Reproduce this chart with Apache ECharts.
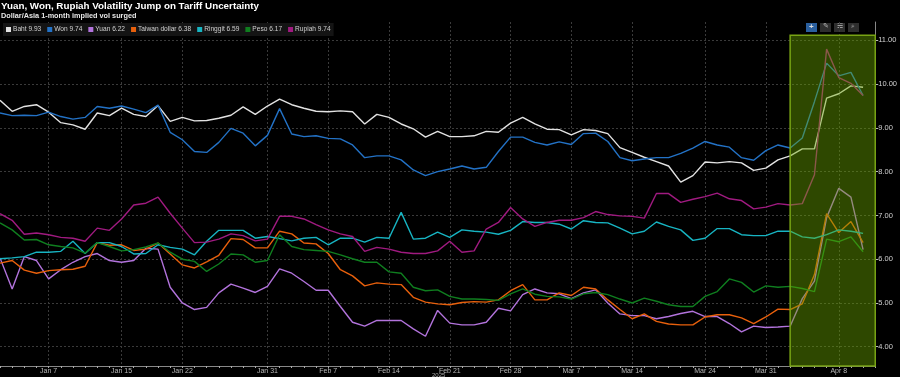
<!DOCTYPE html>
<html>
<head>
<meta charset="utf-8">
<script src="https://cdn.jsdelivr.net/npm/echarts@6/dist/echarts.min.js"></script>
<style>
html, body { margin: 0; padding: 0; background: #000; }
#chart { width: 900px; height: 377px; }
</style>
</head>
<body>
<div id="chart"></div>
<script>
// business days, Jan 1 - Apr 11 2025
const dates = [
  'Jan 1','Jan 2','Jan 3','Jan 6','Jan 7','Jan 8','Jan 9','Jan 10','Jan 13','Jan 14','Jan 15','Jan 16','Jan 17',
  'Jan 20','Jan 21','Jan 22','Jan 23','Jan 24','Jan 27','Jan 28','Jan 29','Jan 30','Jan 31',
  'Feb 3','Feb 4','Feb 5','Feb 6','Feb 7','Feb 10','Feb 11','Feb 12','Feb 13','Feb 14',
  'Feb 17','Feb 18','Feb 19','Feb 20','Feb 21','Feb 24','Feb 25','Feb 26','Feb 27','Feb 28',
  'Mar 3','Mar 4','Mar 5','Mar 6','Mar 7','Mar 10','Mar 11','Mar 12','Mar 13','Mar 14',
  'Mar 17','Mar 18','Mar 19','Mar 20','Mar 21','Mar 24','Mar 25','Mar 26','Mar 27','Mar 28','Mar 31',
  'Apr 1','Apr 2','Apr 3','Apr 4','Apr 7','Apr 8','Apr 9','Apr 10','Apr 11'
];
const tickLabels = ['Jan 7','Jan 15','Jan 22','Jan 31','Feb 7','Feb 14','Feb 21','Feb 28','Mar 7','Mar 14','Mar 24','Mar 31','Apr 8'];

const baht = [9.63,9.38,9.49,9.53,9.36,9.12,9.07,8.97,9.34,9.28,9.45,9.31,9.26,9.51,9.15,9.24,9.16,9.17,9.22,9.29,9.48,9.31,9.50,
  9.66,9.53,9.45,9.38,9.37,9.39,9.37,9.09,9.31,9.24,9.09,8.98,8.79,8.92,8.80,8.80,8.82,8.92,8.90,9.11,
  9.24,9.09,8.97,8.96,8.84,8.96,8.94,8.87,8.55,8.44,8.33,8.23,8.13,7.76,7.91,8.22,8.20,8.23,8.20,8.03,8.08,
  8.27,8.36,8.52,8.52,9.68,9.78,9.96,9.93];
const won = [9.34,9.28,9.29,9.28,9.36,9.26,9.20,9.24,9.49,9.45,9.50,9.43,9.35,9.52,8.90,8.73,8.46,8.44,8.67,8.99,8.88,8.59,8.83,
  9.44,8.86,8.80,8.82,8.76,8.75,8.61,8.32,8.36,8.36,8.27,8.04,7.91,8.00,8.06,8.13,8.06,8.10,8.46,8.79,
  8.79,8.67,8.61,8.68,8.62,8.87,8.88,8.69,8.32,8.25,8.29,8.32,8.32,8.42,8.54,8.69,8.61,8.56,8.32,8.26,8.48,
  8.61,8.54,8.77,9.60,10.48,10.19,10.27,9.74];
const yuan = [6.03,5.32,6.06,5.97,5.55,5.76,5.93,6.06,6.13,5.97,5.93,5.97,6.25,6.23,5.36,5.00,4.85,4.90,5.23,5.43,5.34,5.24,5.38,
  5.78,5.68,5.49,5.29,5.29,4.92,4.56,4.47,4.60,4.60,4.60,4.41,4.24,4.83,4.54,4.50,4.50,4.56,4.88,4.82,
  5.19,5.32,5.23,5.21,5.10,5.23,5.30,5.00,4.75,4.71,4.71,4.64,4.69,4.76,4.81,4.69,4.69,4.53,4.34,4.47,4.44,
  4.45,4.47,5.10,5.50,6.95,7.62,7.42,6.22];
const twd = [5.91,5.97,5.75,5.68,5.74,5.76,5.77,5.84,6.38,6.32,6.33,6.20,6.23,6.37,6.12,5.87,5.80,5.94,6.09,6.47,6.45,6.26,6.26,
  6.64,6.58,6.37,6.35,6.13,5.76,5.62,5.39,5.46,5.43,5.42,5.13,5.02,4.98,4.96,5.01,5.03,5.02,5.07,5.28,
  5.42,5.07,5.07,5.23,5.17,5.36,5.32,5.07,4.85,4.64,4.75,4.58,4.52,4.50,4.50,4.68,4.73,4.73,4.66,4.53,4.68,
  4.86,4.85,4.98,5.65,7.04,6.61,6.86,6.38];
const ringgit = [6.01,6.03,6.06,6.16,6.16,6.18,6.41,6.13,6.38,6.38,6.29,6.12,6.13,6.33,6.27,6.23,6.10,6.41,6.66,6.66,6.66,6.48,6.52,
  6.47,6.42,6.48,6.50,6.33,6.48,6.48,6.39,6.50,6.48,7.07,6.46,6.48,6.62,6.50,6.67,6.64,6.62,6.57,6.66,
  6.86,6.84,6.84,6.80,6.69,6.88,6.84,6.83,6.71,6.58,6.64,6.85,6.75,6.67,6.43,6.48,6.70,6.70,6.56,6.54,6.54,
  6.64,6.64,6.51,6.48,6.56,6.67,6.64,6.59];
const peso = [6.83,6.67,6.44,6.45,6.33,6.29,6.26,6.14,6.38,6.29,6.19,6.22,6.28,6.37,6.16,6.00,5.95,5.72,5.89,6.12,6.10,5.93,5.97,
  6.56,6.29,6.22,6.20,6.18,6.10,6.01,5.93,5.93,5.71,5.68,5.36,5.28,5.30,5.15,5.09,5.09,5.08,5.06,5.21,
  5.32,5.20,5.15,5.14,5.09,5.21,5.24,5.19,5.09,5.00,5.11,5.04,4.96,4.92,4.92,5.15,5.26,5.55,5.47,5.25,5.39,
  5.36,5.38,5.33,5.26,6.46,6.40,6.51,6.17];
const rupiah = [7.04,6.89,6.57,6.60,6.56,6.50,6.48,6.41,6.71,6.66,6.92,7.24,7.28,7.42,7.05,6.71,6.38,6.39,6.46,6.58,6.54,6.42,6.46,
  6.98,6.98,6.92,6.79,6.67,6.58,6.52,6.18,6.27,6.23,6.16,6.13,6.13,6.19,6.41,6.16,6.19,6.69,6.84,7.18,
  6.92,6.75,6.84,6.89,6.89,6.95,7.09,7.02,6.99,6.98,6.94,7.50,7.50,7.30,7.37,7.43,7.51,7.38,7.34,7.15,7.19,
  7.27,7.24,7.27,7.93,10.80,10.15,10.02,9.74];

const names = ['Baht','Won','Yuan','Taiwan dollar','Ringgit','Peso','Rupiah'];
const seriesData = [baht, won, yuan, twd, ringgit, peso, rupiah];
const colors = ['#e2e2e2','#2372c6','#b273dc','#e8600c','#17b4c2','#0f7e1f','#a01a80'];

const font = '"Liberation Sans", Arial, sans-serif';

let chart = echarts.init(document.getElementById('chart'));

let series = names.map((n, i) => ({
  name: n,
  type: 'line',
  data: seriesData[i],
  showSymbol: false,
  lineStyle: { width: 1.4, color: colors[i] },
  itemStyle: { color: colors[i] },
  z: 2
}));

// green highlight band, drawn above the lines
series.push({
  name: 'band',
  type: 'line',
  data: [],
  z: 10,
  markArea: {
    z: 10,
    silent: true,
    itemStyle: { color: 'rgba(110,172,0,0.42)', borderColor: '#78a314', borderWidth: 1.5 },
    data: [[{ xAxis: 'Apr 2', yAxis: 11.12 }, { xAxis: 'Apr 11', yAxis: 3.56 }]]
  }
});

let option = {
  backgroundColor: '#000',
  animation: false,
  color: colors,
  title: {
    text: 'Yuan, Won, Rupiah Volatility Jump on Tariff Uncertainty',
    subtext: 'Dollar/Asia 1-month implied vol surged',
    left: 1,
    top: 1,
    padding: 0,
    itemGap: 1,
    textStyle: { color: '#fff', fontSize: 9.8, fontWeight: 'bold', fontFamily: font },
    subtextStyle: { color: '#e6e6e6', fontSize: 7.3, fontWeight: 'bold', fontFamily: font }
  },
  legend: {
    data: names,
    left: 3,
    top: 23,
    padding: [3, 3],
    backgroundColor: '#141414',
    icon: 'rect',
    itemWidth: 5,
    itemHeight: 5,
    itemGap: 6,
    textStyle: { color: '#d0d0d0', fontSize: 6.6, fontFamily: font, padding: [0, 0, 0, -3] },
    formatter: function (name) {
      let d = seriesData[names.indexOf(name)];
      return name + ' ' + d[d.length - 1].toFixed(2);
    }
  },
  grid: { left: 0, right: 24, top: 22, bottom: 11, containLabel: false },
  xAxis: {
    type: 'category',
    data: dates,
    boundaryGap: false,
    axisLine: { lineStyle: { color: '#888', width: 1 } },
    axisTick: { show: true, interval: 0, length: 2, lineStyle: { color: '#aaa' } },
    axisLabel: {
      interval: (i, v) => tickLabels.includes(v),
      color: '#b8b8b8', fontSize: 7, fontFamily: font, margin: 2
    },
    splitLine: {
      show: true,
      interval: (i, v) => tickLabels.includes(v),
      lineStyle: { color: '#3a3a3a', type: [2, 2], width: 1 }
    }
  },
  yAxis: {
    type: 'value',
    position: 'right',
    min: 3.56,
    max: 11.42,
    splitNumber: 8,
    axisLine: { show: true, lineStyle: { color: '#888', width: 1 } },
    axisTick: { show: true, length: 3, lineStyle: { color: '#bbb' } },
    axisLabel: {
      showMinLabel: false, showMaxLabel: false,
      formatter: v => v.toFixed(2),
      color: '#d0d0d0', fontSize: 7.5, fontFamily: font, margin: 3
    },
    splitLine: {
      show: true, showMinLine: false, showMaxLine: false,
      lineStyle: { color: '#3a3a3a', type: [2, 2], width: 1 }
    }
  },
  graphic: [
    { type: 'text', left: 432, top: 372, style: { text: '2025', fill: '#aaa', font: '6px ' + font } },
    { type: 'rect', shape: { x: 806, y: 23, width: 11, height: 9 }, style: { fill: '#2a5f9e' } },
    { type: 'rect', shape: { x: 820, y: 23, width: 11, height: 9 }, style: { fill: '#2e2e2e' } },
    { type: 'rect', shape: { x: 834, y: 23, width: 11, height: 9 }, style: { fill: '#2e2e2e' } },
    { type: 'rect', shape: { x: 848, y: 23, width: 11, height: 9 }, style: { fill: '#2e2e2e' } },
    { type: 'text', x: 809, y: 23, style: { text: '+', fill: '#ddd', font: 'bold 8px sans-serif' } },
    { type: 'text', x: 823, y: 23, style: { text: '✎', fill: '#bbb', font: '7px "DejaVu Sans"' } },
    { type: 'text', x: 837, y: 23, style: { text: '☰', fill: '#bbb', font: '7px "DejaVu Sans"' } },
    { type: 'text', x: 851, y: 23, style: { text: '⌕', fill: '#bbb', font: '7px "DejaVu Sans"' } }
  ],
  series: series
};

chart.setOption(option);
</script>
</body>
</html>
